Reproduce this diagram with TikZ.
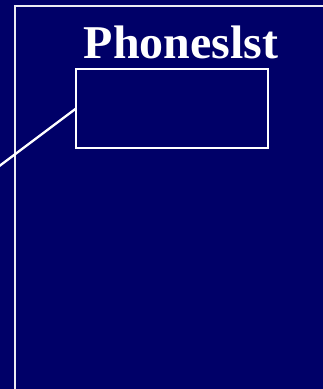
\documentclass[tikz,border=0pt]{standalone}
\usepackage{fontspec}
\setmainfont{Liberation Serif}
\definecolor{slidebg}{RGB}{0,0,104}
\tikzset{
  wline/.style={draw=white, line width=2.3pt},
  listbox/.style={wline, rectangle, inner sep=0pt, outer sep=0pt, minimum width=192pt, minimum height=79pt},
}
\begin{document}
\begin{tikzpicture}[x=1pt,y=-1pt]
\useasboundingbox (0,0) rectangle (323,389);
\clip (0,0) rectangle (323,389);
\fill[slidebg] (0,0) rectangle (323,389);
\draw[wline, draw=white!92!slidebg] (15,6) rectangle (340,400);
\node[text=white, font=\fontsize{47}{50}\selectfont\bfseries, inner sep=0pt, anchor=base, xscale=1.02] (title) at (181,58) {Phoneslst};
\node[listbox] (lstbox) at (172,108.5) {};
\coordinate (lstend) at (-20,180.5);
\draw[wline] (lstbox.west) -- (lstend);
\end{tikzpicture}
\end{document}
